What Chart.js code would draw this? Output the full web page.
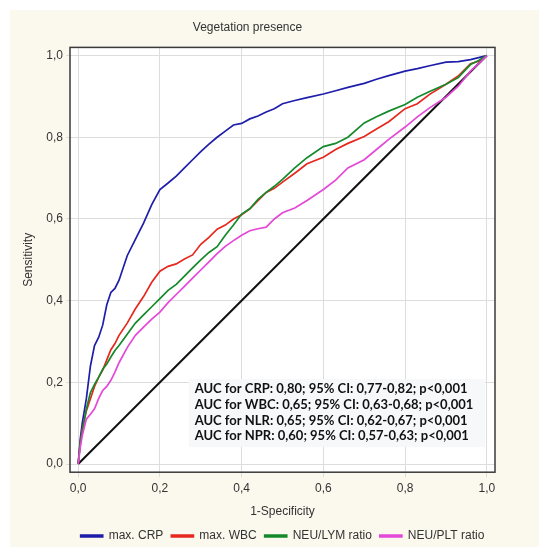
<!DOCTYPE html>
<html>
<head>
<meta charset="utf-8">
<script src="https://cdn.jsdelivr.net/npm/chart.js@4.4.1/dist/chart.umd.min.js"></script>
<style>
    html, body { margin: 0; padding: 0; background: #ffffff; }
    #wrap { width: 539px; height: 547px; }
</style>
</head>
<body>
<div id="wrap"><canvas id="rocChart" width="539" height="547"></canvas></div>
<script>
// 1-Specificity (shared x positions for all curves)
var fpr = [0, 0.005, 0.01, 0.02, 0.03, 0.04, 0.05, 0.06, 0.07, 0.08, 0.09, 0.10,
    0.12, 0.14, 0.16, 0.18, 0.20, 0.22, 0.24, 0.26, 0.28, 0.30, 0.32, 0.34, 0.36,
    0.38, 0.40, 0.42, 0.44, 0.46, 0.48, 0.50, 0.53, 0.56, 0.60, 0.63, 0.66, 0.70,
    0.73, 0.76, 0.80, 0.83, 0.86, 0.90, 0.93, 0.96, 0.98, 1.0];

// Sensitivity per marker
var crpSens = [0, 0.06, 0.10, 0.16, 0.24, 0.29, 0.31, 0.34, 0.39, 0.42, 0.43, 0.45,
    0.51, 0.55, 0.59, 0.635, 0.672, 0.688, 0.705, 0.725, 0.745, 0.765, 0.783, 0.80, 0.815,
    0.83, 0.834, 0.845, 0.852, 0.862, 0.87, 0.882, 0.89, 0.897, 0.906, 0.914, 0.922, 0.932,
    0.942, 0.951, 0.962, 0.968, 0.975, 0.984, 0.985, 0.99, 0.995, 1.0];
var wbcSens = [0, 0.05, 0.085, 0.13, 0.16, 0.19, 0.212, 0.23, 0.255, 0.28, 0.295, 0.315,
    0.345, 0.38, 0.41, 0.445, 0.472, 0.484, 0.49, 0.502, 0.512, 0.538, 0.555, 0.575, 0.585,
    0.60, 0.61, 0.625, 0.645, 0.665, 0.675, 0.69, 0.712, 0.735, 0.751, 0.77, 0.785, 0.802,
    0.82, 0.838, 0.87, 0.882, 0.905, 0.93, 0.95, 0.98, 0.986, 1.0];
var nlrSens = [0, 0.05, 0.08, 0.135, 0.175, 0.195, 0.212, 0.232, 0.245, 0.262, 0.278, 0.29,
    0.318, 0.345, 0.365, 0.385, 0.405, 0.425, 0.44, 0.46, 0.48, 0.50, 0.518, 0.532, 0.56,
    0.585, 0.612, 0.625, 0.648, 0.665, 0.68, 0.697, 0.725, 0.75, 0.777, 0.785, 0.80, 0.835,
    0.85, 0.864, 0.88, 0.898, 0.912, 0.93, 0.946, 0.978, 0.988, 1.0];
var nprSens = [0, 0.04, 0.07, 0.11, 0.122, 0.135, 0.16, 0.18, 0.19, 0.205, 0.225, 0.248,
    0.285, 0.315, 0.335, 0.355, 0.372, 0.395, 0.415, 0.435, 0.455, 0.475, 0.495, 0.515, 0.533,
    0.547, 0.56, 0.571, 0.576, 0.58, 0.60, 0.615, 0.627, 0.645, 0.672, 0.695, 0.725, 0.745,
    0.77, 0.795, 0.825, 0.85, 0.872, 0.898, 0.925, 0.962, 0.98, 1.0];
var refLine = [0, 1];
var refLineX = [0, 1];

var seriesNames = ["max. CRP", "max. WBC", "NEU/LYM ratio", "NEU/PLT ratio"];
var seriesColors = ["#1e1eaa", "#e6281e", "#148a2a", "#e448d8"];
var tickValues = [0, 0.2, 0.4, 0.6, 0.8, 1.0];
var aucLines = [
    "AUC for CRP: 0,80; 95% CI: 0,77-0,82; p<0,001",
    "AUC for WBC: 0,65; 95% CI: 0,63-0,68; p<0,001",
    "AUC for NLR: 0,65; 95% CI: 0,62-0,67; p<0,001",
    "AUC for NPR: 0,60; 95% CI: 0,57-0,63; p<0,001"
];

function toPoints(xs, ys) {
    var pts = [];
    for (var i = 0; i < xs.length; i++) {
        pts.push({ x: xs[i], y: ys[i] });
    }
    return pts;
}

function commaTick(value) {
    return value.toFixed(1).replace(".", ",");
}

function fixTicks(axis) {
    axis.ticks = tickValues.map(function (v) { return { value: v }; });
}

Chart.defaults.font.family = "'Liberation Sans', Arial, sans-serif";
Chart.defaults.font.size = 12;
Chart.defaults.color = "#333333";

var backdrop = {
    id: "backdrop",
    beforeDraw: function (chart) {
        var ctx = chart.ctx;
        var a = chart.chartArea;
        ctx.save();
        ctx.fillStyle = "#fbf8ee";
        ctx.fillRect(10, 10, chart.width - 10, chart.height - 10);
        ctx.fillStyle = "#ffffff";
        ctx.fillRect(a.left, a.top, a.right - a.left, a.bottom - a.top);
        ctx.restore();
    },
    afterDatasetsDraw: function (chart) {
        var ctx = chart.ctx;
        var a = chart.chartArea;
        var xs = chart.scales.x;
        var ys = chart.scales.y;
        ctx.save();
        // AUC text block
        var left = xs.getPixelForValue(0.285);
        var first = ys.getPixelForValue(0.184);
        var boxTop = ys.getPixelForValue(0.208);
        var boxBottom = ys.getPixelForValue(0.042);
        ctx.fillStyle = "#f7f8f9";
        ctx.fillRect(left - 6, boxTop, a.right - 10 - left + 6, boxBottom - boxTop);
        ctx.fillStyle = "#111111";
        ctx.font = "bold 13px Lato, 'Open Sans', sans-serif";
        ctx.textBaseline = "middle";
        for (var i = 0; i < aucLines.length; i++) {
            ctx.fillText(aucLines[i], left, first + i * 15.8);
        }
        // frame
        ctx.strokeStyle = "#3a3a3a";
        ctx.lineWidth = 1.5;
        ctx.strokeRect(a.left, a.top, a.right - a.left, a.bottom - a.top);
        ctx.restore();
    }
};

var ctx = document.getElementById("rocChart").getContext("2d");
var rocChart = new Chart(ctx, {
    type: "line",
    data: {
        datasets: [
            { label: seriesNames[0], data: toPoints(fpr, crpSens), borderColor: seriesColors[0], backgroundColor: seriesColors[0], order: 4 },
            { label: seriesNames[1], data: toPoints(fpr, wbcSens), borderColor: seriesColors[1], backgroundColor: seriesColors[1], order: 3 },
            { label: seriesNames[2], data: toPoints(fpr, nlrSens), borderColor: seriesColors[2], backgroundColor: seriesColors[2], order: 2 },
            { label: seriesNames[3], data: toPoints(fpr, nprSens), borderColor: seriesColors[3], backgroundColor: seriesColors[3], order: 1 },
            { label: "ref", data: toPoints(refLineX, refLine), borderColor: "#111111", backgroundColor: "#111111", borderWidth: 2, order: 5 }
        ]
    },
    options: {
        responsive: false,
        animation: false,
        layout: {
            padding: { left: 0, right: 44, top: 0, bottom: -5 }
        },
        elements: {
            point: { radius: 0 },
            line: { borderWidth: 1.7, tension: 0 }
        },
        plugins: {
            title: {
                display: true,
                text: "Vegetation presence",
                color: "#333333",
                font: { size: 12, weight: "normal" },
                padding: { top: 20, bottom: 13 }
            },
            legend: {
                position: "bottom",
                fullSize: false,
                labels: {
                    boxWidth: 22,
                    boxHeight: 2,
                    padding: 8,
                    color: "#333333",
                    filter: function (item) { return item.datasetIndex < 4; },
                    sort: function (a, b) { return a.datasetIndex - b.datasetIndex; }
                }
            },
            tooltip: { enabled: false }
        },
        scales: {
            x: {
                type: "linear",
                min: -0.02,
                max: 1.02,
                afterBuildTicks: fixTicks,
                ticks: {
                    padding: 4,
                    callback: commaTick
                },
                grid: { color: "#dddddd", tickLength: 5 },
                border: { display: false },
                title: {
                    display: true,
                    text: "1-Specificity",
                    color: "#333333",
                    padding: { top: 5, bottom: 3 }
                }
            },
            y: {
                type: "linear",
                min: -0.02,
                max: 1.02,
                afterBuildTicks: fixTicks,
                afterFit: function (scale) { scale.width = 70; },
                ticks: {
                    padding: 3,
                    callback: commaTick
                },
                grid: { color: "#dddddd", tickLength: 4 },
                border: { display: false },
                title: {
                    display: true,
                    text: "Sensitivity",
                    color: "#333333",
                    padding: { top: 21, bottom: 0 }
                }
            }
        }
    },
    plugins: [backdrop]
});
</script>
</body>
</html>
